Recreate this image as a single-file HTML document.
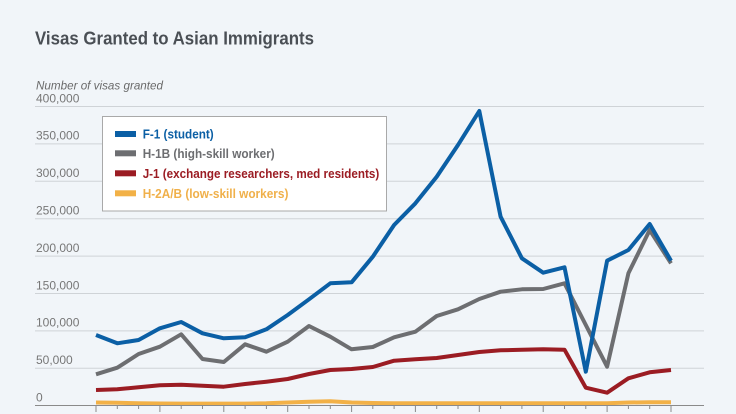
<!DOCTYPE html>
<html>
<head>
<meta charset="utf-8">
<style>
  html, body { margin:0; padding:0; background:#f1f5f9; }
  svg { display:block; }
  text { font-family: "Liberation Sans", sans-serif; }
</style>
</head>
<body>
<svg width="736" height="414" viewBox="0 0 736 414" xmlns="http://www.w3.org/2000/svg">
  <rect x="0" y="0" width="736" height="414" fill="#f1f5f9"/>
  <text x="35" y="44.3" font-size="18" font-weight="bold" fill="#4a4f55" textLength="279" lengthAdjust="spacingAndGlyphs">Visas Granted to Asian Immigrants</text>
  <text x="36" y="89.3" font-size="12" font-style="italic" fill="#6a6a6a" textLength="127" lengthAdjust="spacingAndGlyphs">Number of visas granted</text>

  <!-- gridlines -->
  <g stroke="#cfd3d7" stroke-width="1">
    <line x1="35" x2="704" y1="106.5" y2="106.5"/>
    <line x1="35" x2="704" y1="143.9" y2="143.9"/>
    <line x1="35" x2="704" y1="181.3" y2="181.3"/>
    <line x1="35" x2="704" y1="218.7" y2="218.7"/>
    <line x1="35" x2="704" y1="256.1" y2="256.1"/>
    <line x1="35" x2="704" y1="293.5" y2="293.5"/>
    <line x1="35" x2="704" y1="330.9" y2="330.9"/>
    <line x1="35" x2="704" y1="368.3" y2="368.3"/>
  </g>
  <g font-size="12" fill="#777">
    <text x="36" y="102.3">400,000</text>
    <text x="36" y="139.7">350,000</text>
    <text x="36" y="177.1">300,000</text>
    <text x="36" y="214.5">250,000</text>
    <text x="36" y="251.9">200,000</text>
    <text x="36" y="289.3">150,000</text>
    <text x="36" y="326.7">100,000</text>
    <text x="36" y="364.1">50,000</text>
    <text x="36" y="401.3">0</text>
  </g>

  <!-- series -->
  <g fill="none" stroke-width="4" stroke-linejoin="round" stroke-linecap="butt">
    <polyline stroke="#f2b147" points="96,402.5 117.3,402.8 138.6,403.2 159.9,403.5 181.2,403.6 202.5,403.6 223.8,403.6 245.1,403.6 266.4,403.3 287.7,402.5 309,401.8 330.3,401.3 351.6,402.5 372.8,403 394.1,403.3 415.4,403.3 436.7,403.3 458,403.3 479.3,403.2 500.6,403.3 521.9,403.3 543.2,403.3 564.5,403.3 585.8,403.3 607.1,403.3 628.4,402.5 649.7,402.3 671,402.3"/>
    <polyline stroke="#9b1c23" points="96,390 117.3,389.3 138.6,387.3 159.9,385.3 181.2,384.7 202.5,385.7 223.8,386.7 245.1,384 266.4,381.7 287.7,379 309,374 330.3,370 351.6,369 372.8,367 394.1,360.7 415.4,359.3 436.7,358 458,355 479.3,352 500.6,350.3 521.9,349.7 543.2,349.3 564.5,349.7 585.8,387.7 607.1,392.7 628.4,378.3 649.7,372.3 671,370"/>
    <polyline stroke="#6d6e71" points="96,374.3 117.3,367.7 138.6,354 159.9,346.7 181.2,334.3 202.5,359 223.8,362 245.1,344.3 266.4,351.7 287.7,341.7 309,326 330.3,336.7 351.6,349.3 372.8,347 394.1,337.3 415.4,331.7 436.7,316 458,309.3 479.3,299 500.6,291.7 521.9,289.3 543.2,289 564.5,283.3 585.8,325 607.1,366.7 628.4,273.3 649.7,230 671,263.3"/>
    <polyline stroke="#0b5fa5" points="96,335 117.3,343.3 138.6,340 159.9,328.3 181.2,322 202.5,333.3 223.8,338.3 245.1,337.3 266.4,329.3 287.7,315 309,299.3 330.3,283.3 351.6,282.3 372.8,256.7 394.1,225 415.4,203.3 436.7,176.7 458,145 479.3,111 500.6,216.7 521.9,258.3 543.2,272.7 564.5,267.3 585.8,371.7 607.1,260.7 628.4,250 649.7,224 671,260.7"/>
  </g>

  <!-- baseline and ticks -->
  <line x1="35" x2="704" y1="405.5" y2="405.5" stroke="#8a8a8a" stroke-width="1"/>
  <g stroke="#8a8a8a" stroke-width="1">
    <line x1="96" x2="96" y1="405.5" y2="412"/>
    <line x1="117.3" x2="117.3" y1="405.5" y2="409"/>
    <line x1="138.6" x2="138.6" y1="405.5" y2="409"/>
    <line x1="159.9" x2="159.9" y1="405.5" y2="412"/>
    <line x1="181.2" x2="181.2" y1="405.5" y2="409"/>
    <line x1="202.5" x2="202.5" y1="405.5" y2="409"/>
    <line x1="223.8" x2="223.8" y1="405.5" y2="412"/>
    <line x1="245.1" x2="245.1" y1="405.5" y2="409"/>
    <line x1="266.4" x2="266.4" y1="405.5" y2="409"/>
    <line x1="287.7" x2="287.7" y1="405.5" y2="412"/>
    <line x1="309" x2="309" y1="405.5" y2="409"/>
    <line x1="330.3" x2="330.3" y1="405.5" y2="409"/>
    <line x1="351.6" x2="351.6" y1="405.5" y2="412"/>
    <line x1="372.8" x2="372.8" y1="405.5" y2="409"/>
    <line x1="394.1" x2="394.1" y1="405.5" y2="409"/>
    <line x1="415.4" x2="415.4" y1="405.5" y2="412"/>
    <line x1="436.7" x2="436.7" y1="405.5" y2="409"/>
    <line x1="458" x2="458" y1="405.5" y2="409"/>
    <line x1="479.3" x2="479.3" y1="405.5" y2="412"/>
    <line x1="500.6" x2="500.6" y1="405.5" y2="409"/>
    <line x1="521.9" x2="521.9" y1="405.5" y2="409"/>
    <line x1="543.2" x2="543.2" y1="405.5" y2="412"/>
    <line x1="564.5" x2="564.5" y1="405.5" y2="409"/>
    <line x1="585.8" x2="585.8" y1="405.5" y2="409"/>
    <line x1="607.1" x2="607.1" y1="405.5" y2="412"/>
    <line x1="628.4" x2="628.4" y1="405.5" y2="409"/>
    <line x1="649.7" x2="649.7" y1="405.5" y2="409"/>
    <line x1="671" x2="671" y1="405.5" y2="412"/>
  </g>

  <!-- legend -->
  <rect x="102.5" y="116.5" width="284" height="94.5" fill="#ffffff" stroke="#a9a9a9" stroke-width="1"/>
  <rect x="115" y="131" width="21" height="6" fill="#0b5fa5"/>
  <rect x="115" y="150.3" width="21" height="6" fill="#6d6e71"/>
  <rect x="115" y="170.3" width="21" height="6" fill="#9b1c23"/>
  <rect x="115" y="190.3" width="21" height="6" fill="#f2b147"/>
  <g font-size="12.5" font-weight="bold">
    <text x="142.7" y="138.5" fill="#0b5fa5" textLength="71" lengthAdjust="spacingAndGlyphs">F-1 (student)</text>
    <text x="142.7" y="157.8" fill="#6d6e71" textLength="132" lengthAdjust="spacingAndGlyphs">H-1B (high-skill worker)</text>
    <text x="142.7" y="177.8" fill="#9b1c23" textLength="236.6" lengthAdjust="spacingAndGlyphs">J-1 (exchange researchers, med residents)</text>
    <text x="142.7" y="197.8" fill="#f0b04a" textLength="145.7" lengthAdjust="spacingAndGlyphs">H-2A/B (low-skill workers)</text>
  </g>
</svg>
</body>
</html>
